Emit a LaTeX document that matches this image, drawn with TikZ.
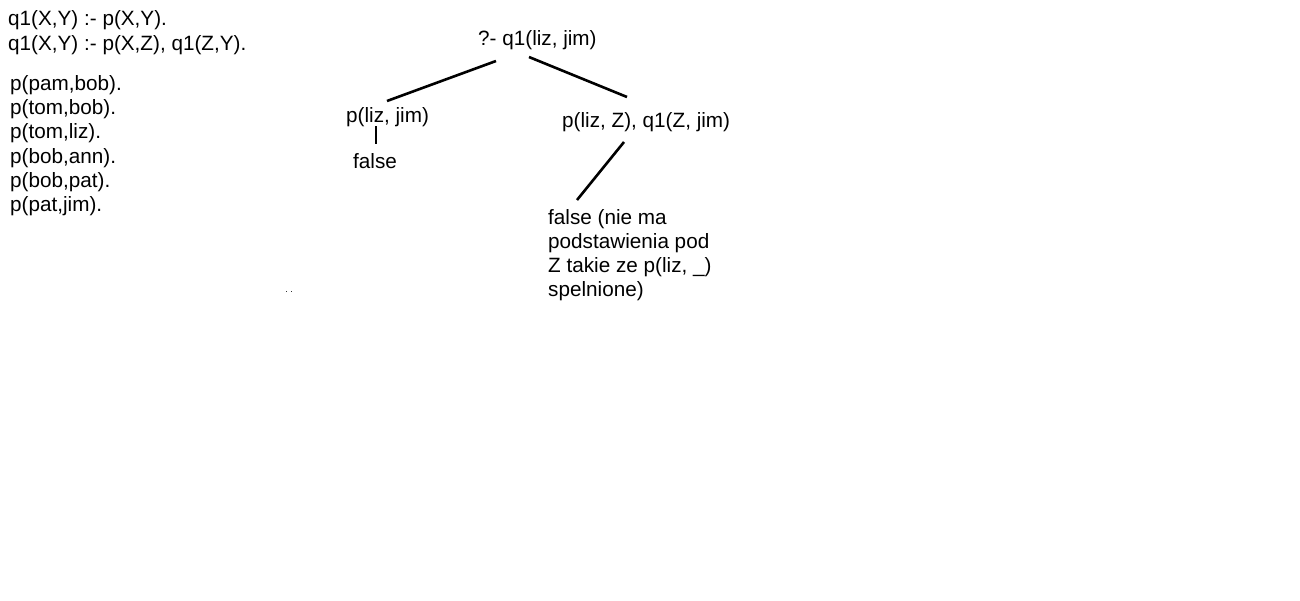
\documentclass[tikz,border=0pt]{standalone}
\usepackage{fontspec}
\setmainfont{Liberation Sans}
\begin{document}
\begin{tikzpicture}[x=1pt,y=-1pt,
  txt/.style={inner sep=0pt, anchor=mid west, font=\fontsize{20.7}{24.2}\selectfont},
  edge/.style={line width=2.6pt, black}]
\fill[white] (0,0) rectangle (1300,600);
\useasboundingbox (0,0) rectangle (1300,600);
% program
\node[txt] (r1) at (8,23) {q1(X,Y) :- p(X,Y).};
\node[txt] (r2) at (8,48) {q1(X,Y) :- p(X,Z), q1(Z,Y).};
\node[txt] (f1) at (10,88) {p(pam,bob).};
\node[txt] (f2) at (10,112) {p(tom,bob).};
\node[txt] (f3) at (10,136) {p(tom,liz).};
\node[txt] (f4) at (10,161) {p(bob,ann).};
\node[txt] (f5) at (10,185) {p(bob,pat).};
\node[txt] (f6) at (10,209) {p(pat,jim).};
% tree
\node[txt] (root) at (478,43) {?- q1(liz, jim)};
\node[txt] (left) at (346,120) {p(liz, jim)};
\node[txt] (lfalse) at (353,166) {false};
\node[txt] (right) at (562,125) {p(liz, Z), q1(Z, jim)};
\node[txt, anchor=north west, align=left] (rfalse) at (548,209) {false (nie ma\\podstawienia pod\\Z takie ze p(liz, \_)\\spelnione)};
% connector ends
\coordinate (rootL) at (496,61);
\coordinate (leftT) at (387,101);
\coordinate (rootR) at (529,57);
\coordinate (rightT) at (627,97);
\coordinate (leftB) at (376,126);
\coordinate (lfalseT) at (376,144);
\coordinate (rightB) at (624,142);
\coordinate (rfalseT) at (577,200);
\draw[edge] (rootL) -- (leftT);
\draw[edge] (rootR) -- (rightT);
\draw[edge] (leftB) -- (lfalseT);
\draw[edge] (rightB) -- (rfalseT);
% stray dots
\fill[black!80] (286,290.5) rectangle ++(1.3,1.3);
\fill[black!80] (290.5,290.5) rectangle ++(1.3,1.3);
\end{tikzpicture}
\end{document}
